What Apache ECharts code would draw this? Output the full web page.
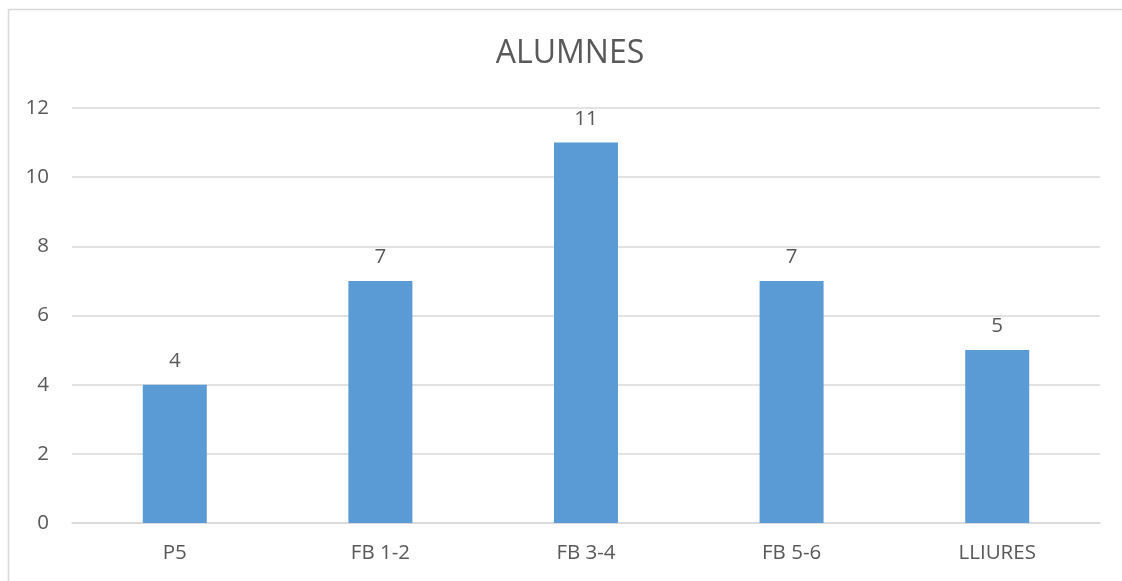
<!DOCTYPE html>
<html>
<head>
<meta charset="utf-8">
<script src="https://cdn.jsdelivr.net/npm/echarts@6/dist/echarts.min.js"></script>
<style>
  html, body {margin: 0; padding: 0; background: #fff;}
  #chart {width: 1122px; height: 581px;}
</style>
</head>
<body>
<div id="chart"></div>
<script>
  const categories = ['P5', 'FB 1-2', 'FB 3-4', 'FB 5-6', 'LLIURES'];
  const alumnes = [4, 7, 11, 7, 5];

  const textColor = '#595959';
  const lineColor = '#d9d9d9';
  const font = '"Open Sans", sans-serif';

  let chart = echarts.init(document.getElementById('chart'));
  chart.setOption({
    backgroundColor: '#fff',
    animation: false,
    // marc del gràfic (retallat a la dreta i a baix)
    graphic: [{
      type: 'rect',
      shape: {x: 8.5, y: 9.5, width: 1200, height: 700},
      style: {fill: 'none', stroke: lineColor, lineWidth: 1.5},
      silent: true
    }],
    title: {
      text: 'ALUMNES',
      left: 565,
      top: 33,
      textAlign: 'center',
      textStyle: {color: textColor, fontFamily: font, fontSize: 32, fontWeight: 'normal'}
    },
    grid: {left: 72, right: 22, top: 108, bottom: 58, containLabel: false},
    xAxis: {
      type: 'category',
      data: categories,
      axisLine: {lineStyle: {color: lineColor, width: 1.5}},
      axisTick: {show: false},
      axisLabel: {color: textColor, fontFamily: font, fontSize: 20.5, margin: 20}
    },
    yAxis: {
      type: 'value',
      min: 0,
      max: 12,
      interval: 2,
      axisLine: {show: false},
      axisTick: {show: false},
      splitLine: {lineStyle: {color: lineColor, width: 1.5}},
      axisLabel: {color: textColor, fontFamily: font, fontSize: 20.5, margin: 23}
    },
    series: [{
      type: 'bar',
      data: alumnes,
      barWidth: 64,
      itemStyle: {color: '#5b9bd5'},
      label: {
        show: true,
        position: 'top',
        distance: 13,
        color: textColor,
        fontFamily: font,
        fontSize: 20.5
      }
    }]
  });
</script>
</body>
</html>
